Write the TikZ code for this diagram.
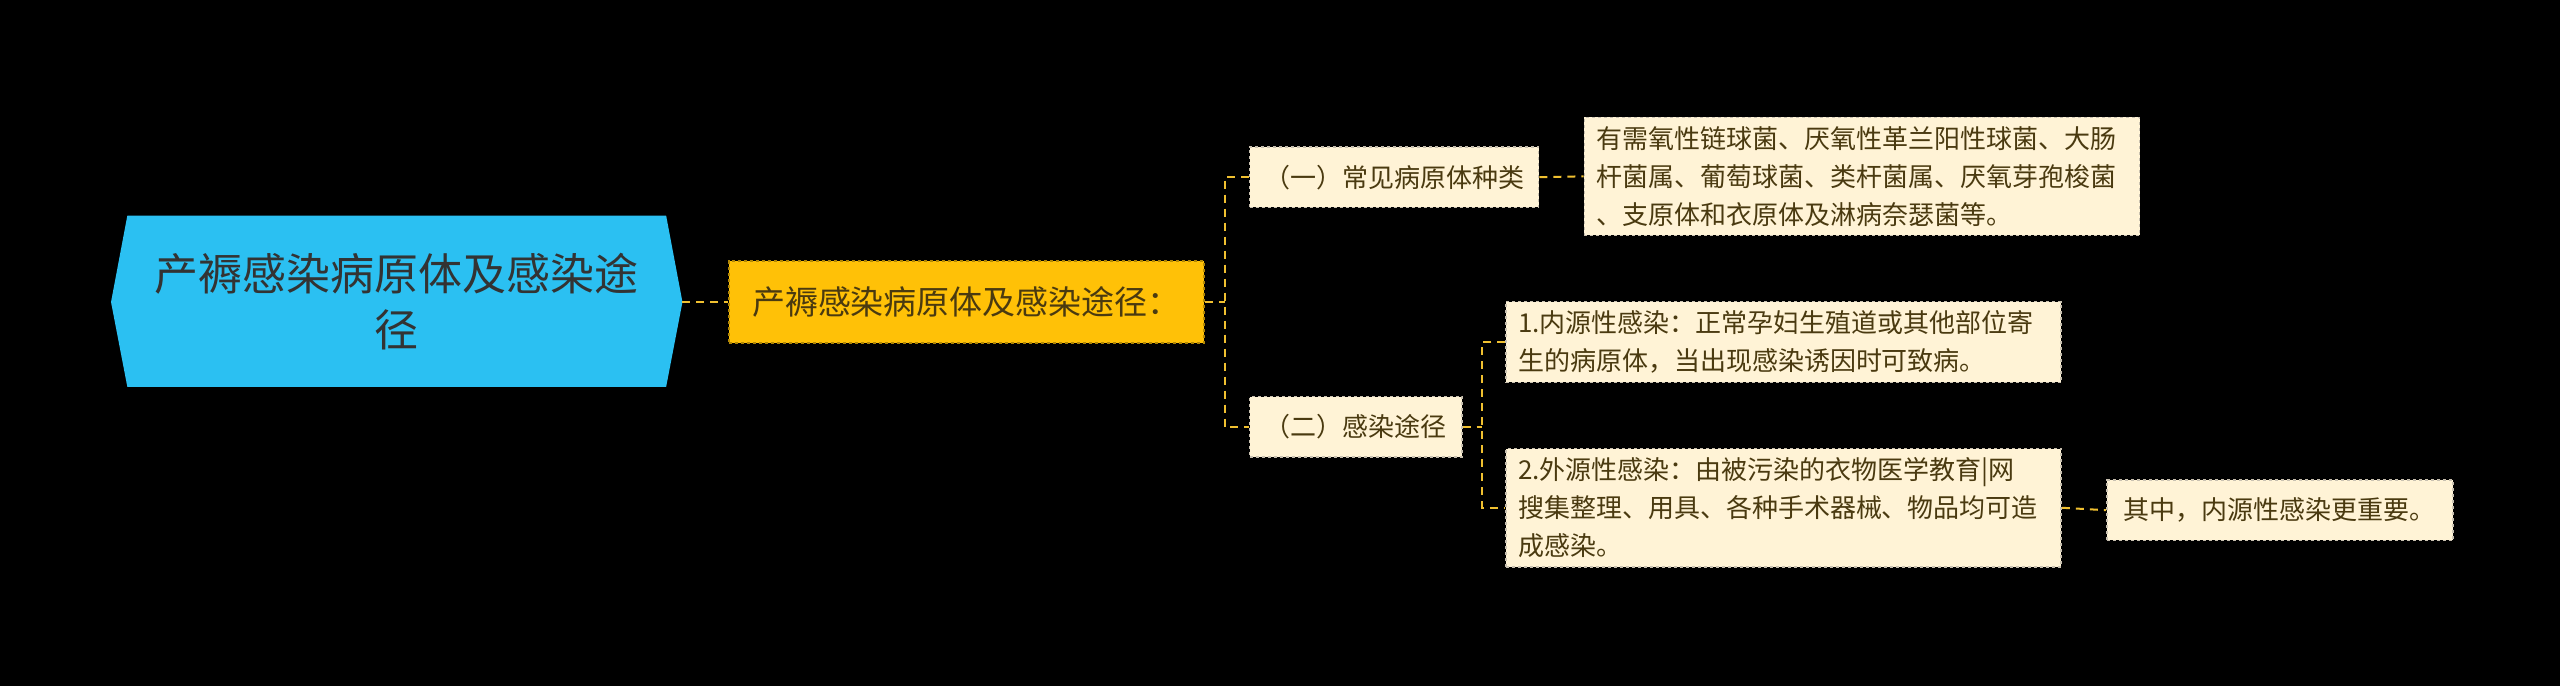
\documentclass[tikz,border=0pt]{standalone}
\usepackage{fontspec}
\setmainfont{Noto Sans CJK SC}
\begin{document}
\begin{tikzpicture}[x=1.633pt,y=-1.633pt,
 conn/.style={draw=linec,dashed,line width=2pt,dash pattern=on 8pt off 6pt},
 leaf/.style={fill=leaff,draw=leafb,dashed,line width=1.5pt,text=txt,font=\fontsize{26pt}{38pt}\selectfont,inner xsep=12pt,inner ysep=9pt,align=left,anchor=west},
 wide/.style={text width=340*1.633pt-24pt}]
\definecolor{linec}{HTML}{F0C030}
\definecolor{leaff}{HTML}{FFF3D6}
\definecolor{leafb}{HTML}{C8C0B0}
\definecolor{txt}{HTML}{4A3A10}
\definecolor{rootc}{HTML}{2BC0F2}
\definecolor{sub}{HTML}{FFC107}
\fill[black] (0,0) rectangle (1568,420);
\useasboundingbox (0,0) rectangle (1568,420);
\fill[rootc] (68,185) -- (78,132) -- (408,132) -- (418,185) -- (408,237) -- (78,237) -- cycle;
\node[font=\fontsize{44pt}{56pt}\selectfont,text=black!80,align=center] (root) at (243,185) {产褥感染病原体及感染途\\径};
\coordinate (rootE) at (418,185);
\node[fill=sub,draw=sub!70!black,dashed,line width=1.5pt,minimum height=50*1.633pt,minimum width=291*1.633pt,font=\fontsize{33pt}{40pt}\selectfont,text=txt,anchor=west] (n2) at (446,185) {产褥感染病原体及感染途径：};
\node[leaf,minimum height=37*1.633pt,minimum width=177*1.633pt] (a) at (765,108.5) {（一）常见病原体种类};
\node[leaf,minimum height=37*1.633pt,minimum width=130*1.633pt] (b) at (765,261.5) {（二）感染途径};
\node[leaf,wide] (a1) at (970,108) {有需氧性链球菌、厌氧性革兰阳性球菌、大肠\\杆菌属、葡萄球菌、类杆菌属、厌氧芽孢梭菌\\、支原体和衣原体及淋病奈瑟菌等。};
\node[leaf,wide] (b1) at (922,209.5) {1.内源性感染：正常孕妇生殖道或其他部位寄\\生的病原体，当出现感染诱因时可致病。};
\node[leaf,wide] (b2) at (922,311) {2.外源性感染：由被污染的衣物医学教育|网\\搜集整理、用具、各种手术器械、物品均可造\\成感染。};
\node[leaf,minimum height=37*1.633pt,minimum width=212*1.633pt] (b21) at (1290,312.5) {其中，内源性感染更重要。};
\draw[conn] (rootE) -- (n2.west);
\draw[conn] (n2.east) -- (750,185);
\draw[conn] (a.west) -- (750,108.5) -- (750,261.5) -- (b.west);
\draw[conn] (a.east) -- (a1.west);
\draw[conn] (b.east) -- (908,261.5);
\draw[conn] (b1.west) -- (908,209.5) -- (908,311) -- (b2.west);
\draw[conn] (b2.east) -- (b21.west);
\end{tikzpicture}
\end{document}
